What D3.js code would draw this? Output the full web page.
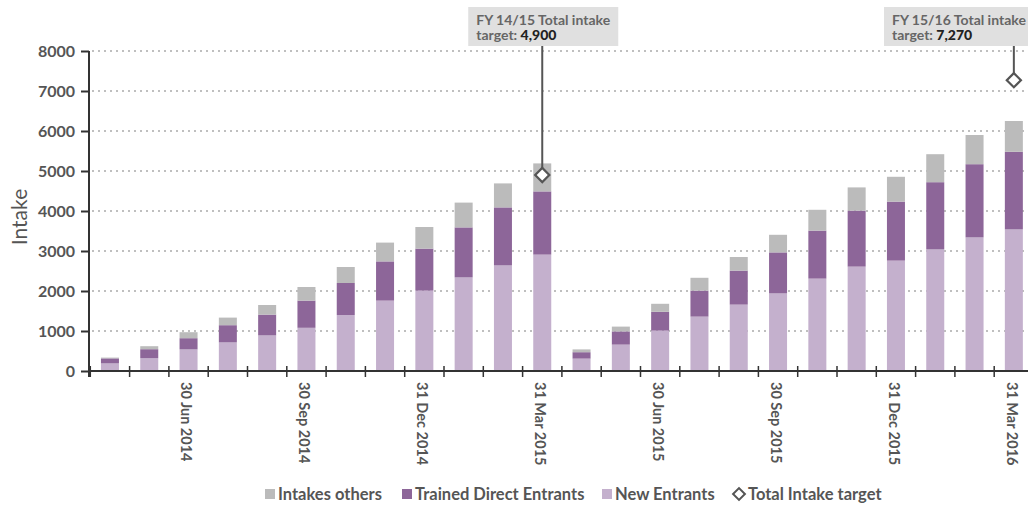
<!DOCTYPE html>
<html>
<head>
<meta charset="utf-8">
<script src="https://cdn.jsdelivr.net/npm/d3@7"></script>
<style>
  body { margin: 0; background: #fff; }
  svg { display: block; font-family: Lato, "Noto Sans", sans-serif; }
</style>
</head>
<body>
<div id="chart"></div>
<script>
// month ends, Apr 2014 - Mar 2016
var months = [
  "30 Apr 2014", "31 May 2014", "30 Jun 2014", "31 Jul 2014", "31 Aug 2014", "30 Sep 2014",
  "31 Oct 2014", "30 Nov 2014", "31 Dec 2014", "31 Jan 2015", "28 Feb 2015", "31 Mar 2015",
  "30 Apr 2015", "31 May 2015", "30 Jun 2015", "31 Jul 2015", "31 Aug 2015", "30 Sep 2015",
  "31 Oct 2015", "30 Nov 2015", "31 Dec 2015", "31 Jan 2016", "29 Feb 2016", "31 Mar 2016"
];
var tickLabels = ["30 Jun 2014", "30 Sep 2014", "31 Dec 2014", "31 Mar 2015",
                  "30 Jun 2015", "30 Sep 2015", "31 Dec 2015", "31 Mar 2016"];
var newEntrants = [190, 320, 540, 715, 890, 1080, 1400, 1760, 2010, 2340, 2640, 2910,
                   310, 660, 1010, 1360, 1660, 1940, 2310, 2610, 2760, 3040, 3340, 3540];
var trainedDirect = [125, 225, 280, 430, 520, 680, 800, 980, 1050, 1250, 1450, 1580,
                     160, 330, 470, 650, 850, 1025, 1200, 1400, 1475, 1680, 1830, 1940];
var intakesOthers = [20, 75, 150, 190, 240, 340, 400, 470, 540, 620, 600, 700,
                     70, 120, 200, 320, 340, 440, 520, 580, 620, 700, 730, 770];
var targetMonths = ["31 Mar 2015", "31 Mar 2016"];
var targetValues = [4900, 7270];
var targetYears = ["FY 14/15", "FY 15/16"];
var yTicks = [0, 1000, 2000, 3000, 4000, 5000, 6000, 7000, 8000];

var width = 1028, height = 507;
var margin = {top: 51, left: 89};
var plotBottom = 371;

var keys = ["newEntrants", "trainedDirect", "intakesOthers"];
var names = {intakesOthers: "Intakes others", trainedDirect: "Trained Direct Entrants",
             newEntrants: "New Entrants", target: "Total Intake target"};
var colors = {intakesOthers: "#bbbbbb", trainedDirect: "#8d6699", newEntrants: "#c4b0cd"};

var rows = months.map(function (m, i) {
  return {month: m, newEntrants: newEntrants[i], trainedDirect: trainedDirect[i], intakesOthers: intakesOthers[i]};
});

var svg = d3.select("#chart").append("svg")
  .attr("width", width)
  .attr("height", height);

var xScale = d3.scaleBand()
  .domain(months)
  .range([90.3, 1033.5])
  .paddingInner(0.542)
  .paddingOuter(0.271);
var step = xScale.step();

var yScale = d3.scaleLinear().domain([0, 8000]).range([plotBottom, margin.top]);

// dotted grid
svg.append("g")
  .selectAll("line")
  .data(yTicks.filter(function (d) { return d > 0; }))
  .enter()
  .append("line")
    .attr("x1", margin.left + 3)
    .attr("x2", width)
    .attr("y1", function (d) { return yScale(d); })
    .attr("y2", function (d) { return yScale(d); })
    .attr("stroke", "#aaa")
    .attr("stroke-width", 1.5)
    .attr("stroke-dasharray", "2,4");

// stacked bars
var stack = d3.stack().keys(keys)(rows);
svg.append("g")
  .selectAll("g")
  .data(stack)
  .enter()
  .append("g")
    .attr("fill", function (d) { return colors[d.key]; })
  .selectAll("rect")
  .data(function (d) { return d; })
  .enter()
  .append("rect")
    .attr("x", function (d) { return xScale(d.data.month); })
    .attr("width", xScale.bandwidth())
    .attr("y", function (d) { return yScale(d[1]); })
    .attr("height", function (d) { return yScale(d[0]) - yScale(d[1]); });

// y axis
var yAxis = svg.append("g")
  .attr("transform", "translate(" + margin.left + ",0)")
  .call(d3.axisLeft(yScale).tickValues(yTicks).tickFormat(d3.format("d"))
    .tickSize(8).tickPadding(6).tickSizeOuter(0));
yAxis.select(".domain").attr("stroke", "#333").attr("stroke-width", 2)
  .attr("d", "M0," + margin.top + "V" + (plotBottom + 6));
yAxis.selectAll(".tick line").attr("stroke", "#333").attr("stroke-width", 2);
yAxis.selectAll(".tick text")
  .attr("fill", "#555")
  .style("font-size", "16px")
  .style("font-weight", "bold")
  .style("font-family", "Lato");

// x axis: ticks at band edges, labels at quarter ends
var edges = months.map(function (m) { return xScale(m) + xScale.bandwidth() / 2 - step / 2; });
var xAxis = svg.append("g");
xAxis.append("line")
  .attr("x1", margin.left)
  .attr("x2", width)
  .attr("y1", plotBottom)
  .attr("y2", plotBottom)
  .attr("stroke", "#333")
  .attr("stroke-width", 2);
xAxis.selectAll("line.tick")
  .data(edges)
  .enter()
  .append("line")
    .attr("class", "tick")
    .attr("x1", function (d) { return d; })
    .attr("x2", function (d) { return d; })
    .attr("y1", plotBottom - 5)
    .attr("y2", plotBottom + 6)
    .attr("stroke", "#333")
    .attr("stroke-width", 1.5);
xAxis.selectAll("text")
  .data(tickLabels)
  .enter()
  .append("text")
    .attr("transform", function (d) {
      return "translate(" + (xScale(d) + xScale.bandwidth() / 2 - 2) + "," + (plotBottom + 11) + ") rotate(90)";
    })
    .attr("dy", "0.35em")
    .attr("fill", "#555")
    .style("font-size", "14.5px")
    .style("font-weight", "bold")
    .text(function (d) { return d; });

// y axis title
svg.append("text")
  .attr("transform", "translate(27,217) rotate(-90)")
  .attr("text-anchor", "middle")
  .attr("fill", "#555")
  .style("font-size", "21px")
  .text("Intake");

// targets with callouts
targetMonths.forEach(function (m, i) {
  var cx = xScale(m) + xScale.bandwidth() / 2;
  var cy = yScale(targetValues[i]);
  var boxW = 150;
  var boxX = Math.min(cx - 74, width - 144);
  var boxY = 7, boxH = 39;
  var g = svg.append("g");
  g.append("line")
    .attr("x1", cx).attr("x2", cx)
    .attr("y1", boxY + boxH)
    .attr("y2", cy)
    .attr("stroke", "#555")
    .attr("stroke-width", 2);
  g.append("rect")
    .attr("x", boxX).attr("y", boxY)
    .attr("width", boxW).attr("height", boxH)
    .attr("fill", "#e0e0e0");
  g.append("text")
    .attr("x", boxX + 8)
    .attr("y", boxY + 18)
    .attr("fill", "#666")
    .style("font-size", "14px")
    .style("font-weight", "bold")
    .text(targetYears[i] + " Total intake");
  var t2 = g.append("text")
    .attr("x", boxX + 8)
    .attr("y", boxY + 33)
    .attr("fill", "#666")
    .style("font-size", "14px")
    .style("font-weight", "bold");
  t2.append("tspan").text("target: ");
  t2.append("tspan").attr("fill", "#222").style("font-weight", "900").text(d3.format(",")(targetValues[i]));
  g.append("path")
    .attr("d", d3.symbol().type(d3.symbolSquare).size(100)())
    .attr("transform", "translate(" + cx + "," + cy + ") rotate(45)")
    .attr("fill", "#fff")
    .attr("stroke", "#555")
    .attr("stroke-width", 2.2);
});

// legend
var legendItems = ["intakesOthers", "trainedDirect", "newEntrants", "target"];
var legendX = [265, 402, 602, 731];
var legend = svg.append("g").attr("transform", "translate(0,494)");
legend.selectAll("g")
  .data(legendItems)
  .enter()
  .append("g")
    .attr("transform", function (d, i) { return "translate(" + legendX[i] + ",0)"; })
  .each(function (k) {
    var g = d3.select(this);
    if (k === "target") {
      g.append("path")
        .attr("d", d3.symbol().type(d3.symbolSquare).size(70)())
        .attr("transform", "translate(8,0) rotate(45)")
        .attr("fill", "#fff")
        .attr("stroke", "#555")
        .attr("stroke-width", 2);
    } else {
      g.append("rect")
        .attr("x", 0).attr("y", -5)
        .attr("width", 10).attr("height", 10)
        .attr("fill", colors[k]);
    }
    g.append("text")
      .attr("x", k === "target" ? 17 : 13)
      .attr("dy", "0.35em")
      .attr("fill", "#555")
      .style("font-size", "16.5px")
      .style("font-weight", "bold")
      .text(names[k]);
  });
</script>
</body>
</html>
